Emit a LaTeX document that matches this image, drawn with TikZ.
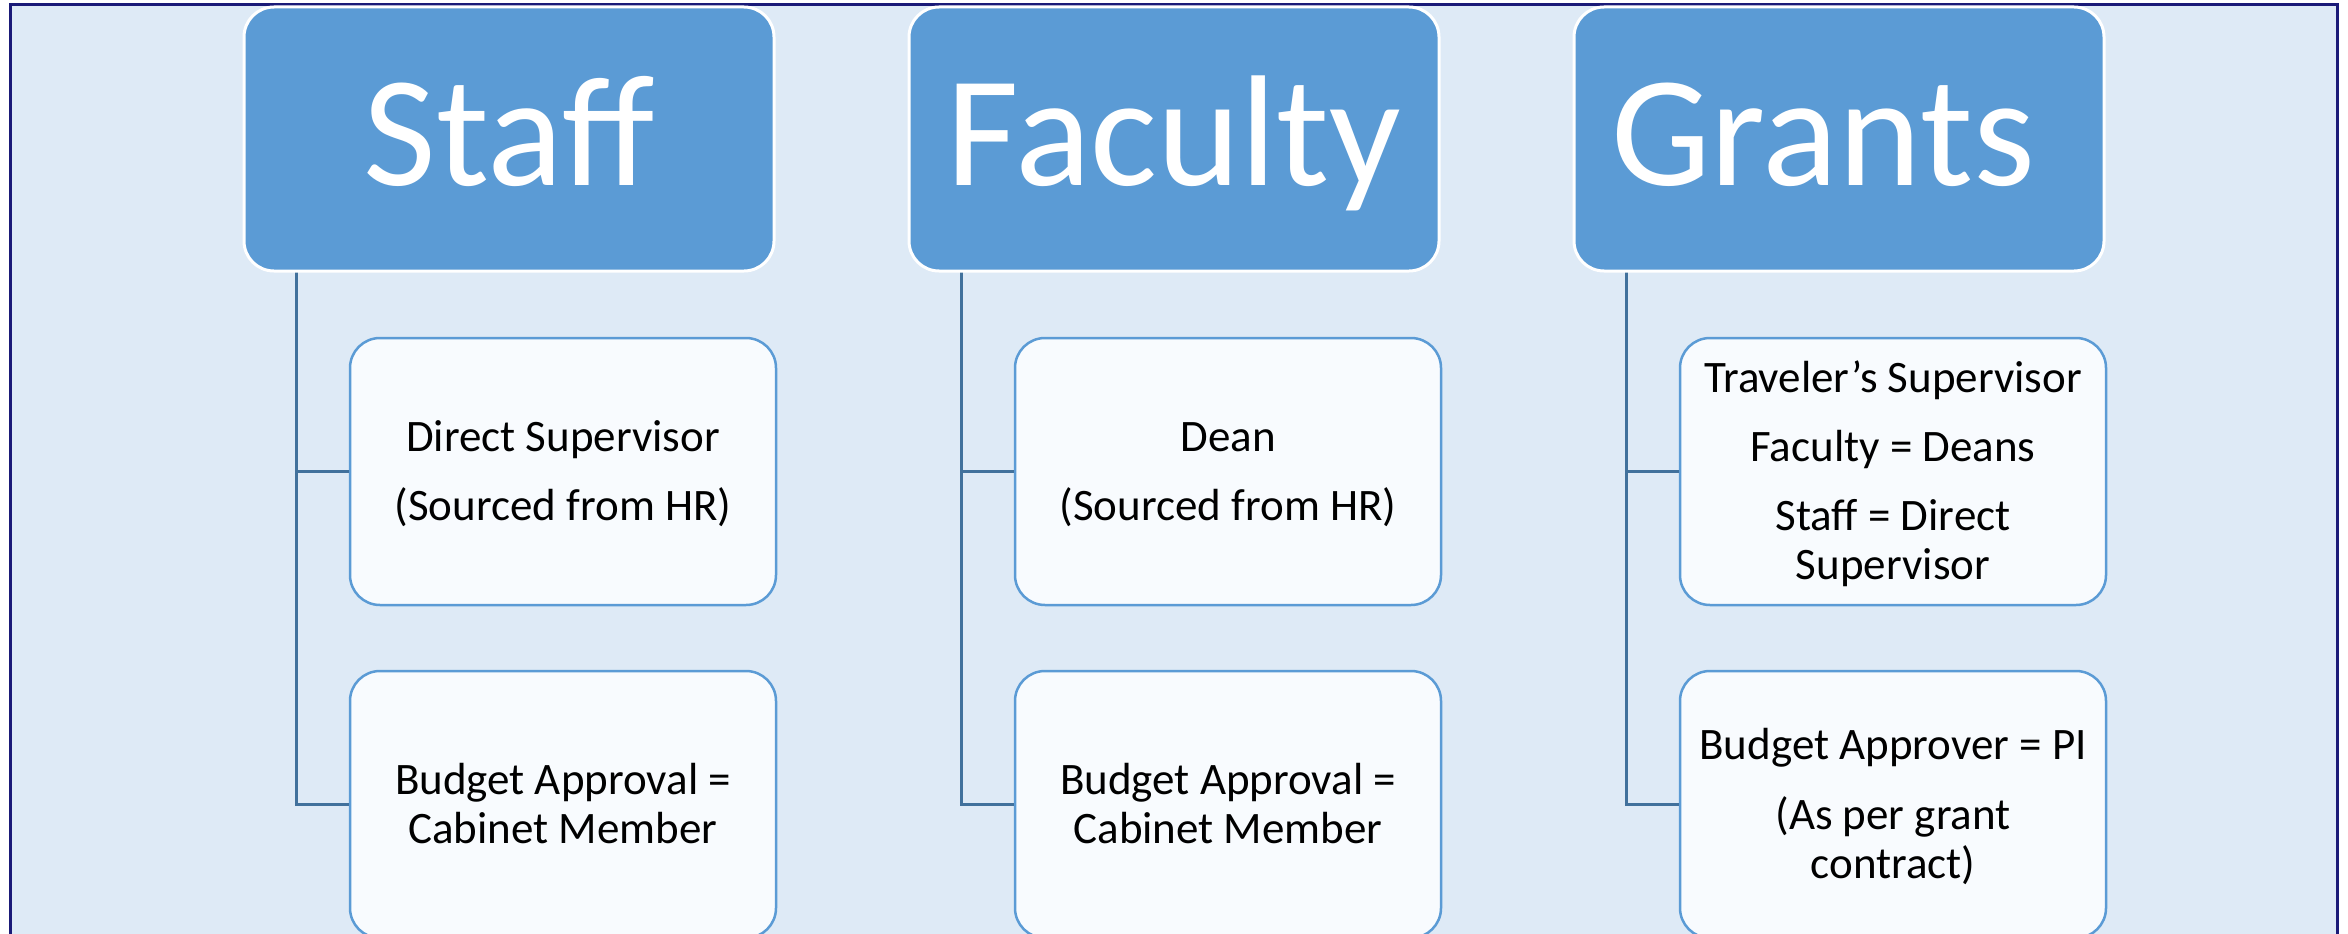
\documentclass[tikz,border=0pt]{standalone}
\usepackage{fontspec}
\setmainfont{Carlito}
\definecolor{bgblue}{HTML}{DEEAF6}
\definecolor{headfill}{HTML}{5B9BD5}
\definecolor{leaffill}{HTML}{F8FBFE}
\definecolor{leafline}{HTML}{5B9BD5}
\definecolor{connline}{HTML}{41719C}
\definecolor{framenavy}{HTML}{1A1A78}
\begin{document}
\begin{tikzpicture}[x=1pt,y=-1pt,
  headbox/.style={draw=white, line width=3pt, fill=headfill, rounded corners=30pt,
    minimum width=530pt, minimum height=264pt, inner sep=0pt, text=white,
    text height=110pt, text depth=18pt, font=\fontsize{158}{170}\selectfont},
  leafbox/.style={draw=leafline, line width=2.5pt, fill=leaffill, rounded corners=30pt,
    minimum width=426pt, minimum height=267pt, inner sep=0pt},
  leaftext/.style={align=center, inner sep=0pt, yshift=-5pt, text=black,
    font=\fontsize{45}{49}\selectfont},
  conn/.style={draw=connline, line width=3pt}]
\useasboundingbox (0,0) rectangle (2348,934);
\clip (0,0) rectangle (2348,934);
\draw[draw=framenavy, line width=3pt, fill=bgblue] (10,5) rectangle (2337,1000);

% connectors
\coordinate (sv) at (296,271);
\coordinate (fv) at (961,271);
\coordinate (gv) at (1626,271);

\node[leafbox] (s1) at (563,471.5) {};
\node[leafbox] (s2) at (563,804.5) {};
\node[leafbox] (f1) at (1228,471.5) {};
\node[leafbox] (f2) at (1228,804.5) {};
\node[leafbox] (g1) at (1893,471.5) {};
\node[leafbox] (g2) at (1893,804.5) {};

\draw[conn] (sv) |- (s1.west);
\draw[conn] (sv) |- (s2.west);
\draw[conn] (fv) |- (f1.west);
\draw[conn] (fv) |- (f2.west);
\draw[conn] (gv) |- (g1.west);
\draw[conn] (gv) |- (g2.west);

\node[headbox] (sh) at (509,139) {Staff};
\node[headbox] (fh) at (1174,139) {Faculty};
\node[headbox] (gh) at (1839,139) {Grants\kern32pt};

\node[leaftext] (s1t) at (s1) {\strut Direct Supervisor\\[20pt]\strut (Sourced from HR)};
\node[leaftext] (s2t) at (s2) {\strut Budget Approval =\\\strut Cabinet Member};
\node[leaftext] (f1t) at (f1) {\strut Dean\\[20pt]\strut (Sourced from HR)};
\node[leaftext] (f2t) at (f2) {\strut Budget Approval =\\\strut Cabinet Member};
\node[leaftext] (g1t) at (g1) {\strut Traveler’s Supervisor\\[20pt]\strut Faculty = Deans\\[20pt]\strut Staff = Direct\\\strut Supervisor};
\node[leaftext] (g2t) at (g2) {\strut Budget Approver = PI\\[21pt]\strut (As per grant\\\strut contract)};
\end{tikzpicture}
\end{document}
